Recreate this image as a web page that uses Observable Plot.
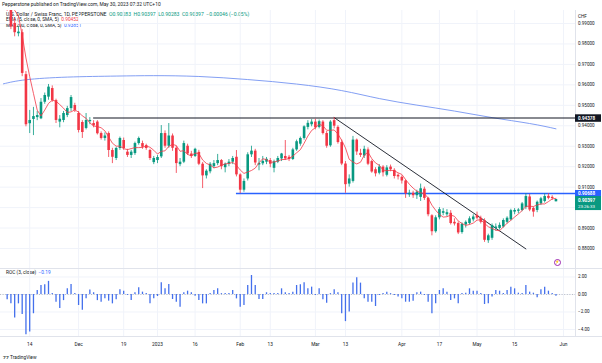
<!DOCTYPE html>
<html><head><meta charset="utf-8">
<script src="https://cdn.jsdelivr.net/npm/d3@7"></script>
<script src="https://cdn.jsdelivr.net/npm/@observablehq/plot@0.6"></script>
<style>
body{margin:0;background:#fff;}
#wrap{position:relative;width:602px;height:363px;overflow:hidden;font-family:Roboto,"Liberation Sans",sans-serif;background:#fff;}
#wrap svg{position:absolute;left:0;z-index:1;}
.t{position:absolute;white-space:nowrap;font-size:5px;color:#131722;line-height:1;z-index:0;}
.sep{position:absolute;background:#e0e3eb;z-index:2;}
</style></head><body><div id="wrap"></div>
<script>
// ---------- DATA ----------
const firstDay = "2022-10-31";          // first bar in the arrays (off-screen to the left)
const calendarEnd = "2023-06-05";
const closedDays = ["2022-12-26"];

const opens = [0.9985,1.0005,1.0025,0.9990,1.0128,0.9965,0.9900,0.9850,0.9855,0.9650,0.9410,0.9431,0.9440,0.9434,0.9515,0.9540,0.9582,0.9523,0.9418,0.9426,0.9450,0.9484,0.9499,0.9460,0.9416,0.9387,0.9420,0.9411,0.9418,0.9362,0.9338,0.9362,0.9279,0.9240,0.9289,0.9328,0.9271,0.9255,0.9264,0.9313,0.9313,0.9303,0.9279,0.9220,0.9230,0.9248,0.9362,0.9300,0.9350,0.9290,0.9210,0.9222,0.9300,0.9262,0.9250,0.9270,0.9212,0.9155,0.9175,0.9200,0.9215,0.9230,0.9195,0.9212,0.9222,0.9246,0.9160,0.9085,0.9140,0.9258,0.9276,0.9208,0.9214,0.9222,0.9230,0.9192,0.9222,0.9238,0.9250,0.9246,0.9235,0.9282,0.9310,0.9338,0.9392,0.9405,0.9418,0.9392,0.9418,0.9362,0.9302,0.9425,0.9392,0.9318,0.9213,0.9115,0.9128,0.9330,0.9265,0.9252,0.9282,0.9225,0.9185,0.9168,0.9198,0.9158,0.9198,0.9182,0.9158,0.9148,0.9130,0.9062,0.9070,0.9058,0.9050,0.9090,0.9045,0.8960,0.8882,0.8950,0.8972,0.8965,0.8972,0.8928,0.8922,0.8878,0.8915,0.8922,0.8940,0.8962,0.8948,0.8936,0.8838,0.8850,0.8898,0.8898,0.8905,0.8928,0.8940,0.8978,0.8982,0.8986,0.9000,0.9052,0.8996,0.8986,0.9018,0.9030,0.9055,0.9050,0.90283];
const highs = [1.0030,1.0050,1.0060,1.0148,1.0135,0.9985,0.9925,0.9885,0.9870,0.9665,0.9475,0.9490,0.9470,0.9533,0.9560,0.9602,0.9595,0.9530,0.9450,0.9470,0.9495,0.9548,0.9510,0.9470,0.9425,0.9460,0.9440,0.9425,0.9425,0.9370,0.9365,0.9370,0.9290,0.9295,0.9345,0.9340,0.9285,0.9280,0.9320,0.9345,0.9325,0.9310,0.9285,0.9250,0.9255,0.9401,0.9375,0.9411,0.9360,0.9300,0.9240,0.9325,0.9310,0.9275,0.9290,0.9280,0.9220,0.9185,0.9220,0.9230,0.9260,0.9235,0.9218,0.9235,0.9250,0.9279,0.9165,0.9140,0.9268,0.9300,0.9285,0.9240,0.9250,0.9245,0.9240,0.9232,0.9250,0.9265,0.9328,0.9255,0.9290,0.9330,0.9345,0.9400,0.9425,0.9430,0.9432,0.9428,0.9425,0.9372,0.9425,0.9440,0.9400,0.9330,0.9225,0.9160,0.9348,0.9335,0.9285,0.9300,0.9292,0.9232,0.9195,0.9210,0.9205,0.9205,0.9208,0.9190,0.9165,0.9155,0.9135,0.9085,0.9080,0.9085,0.9115,0.9100,0.9050,0.8965,0.8960,0.9000,0.8995,0.8990,0.8985,0.8945,0.8930,0.8925,0.8935,0.8955,0.8965,0.8978,0.8958,0.8945,0.8870,0.8920,0.8920,0.8925,0.8945,0.8955,0.8992,0.8995,0.8995,0.9025,0.9068,0.9064,0.9002,0.9032,0.9050,0.9067,0.9068,0.9058,0.90397];
const lows = [0.9960,0.9975,0.9975,0.9980,0.9960,0.9870,0.9835,0.9835,0.9640,0.9395,0.9362,0.9352,0.9425,0.9430,0.9505,0.9525,0.9515,0.9411,0.9390,0.9415,0.9440,0.9470,0.9465,0.9365,0.9338,0.9380,0.9405,0.9390,0.9355,0.9330,0.9325,0.9245,0.9215,0.9230,0.9280,0.9280,0.9245,0.9240,0.9255,0.9305,0.9285,0.9280,0.9230,0.9210,0.9215,0.9240,0.9290,0.9290,0.9275,0.9167,0.9200,0.9215,0.9255,0.9240,0.9245,0.9205,0.9093,0.9140,0.9165,0.9190,0.9205,0.9185,0.9170,0.9200,0.9210,0.9150,0.9068,0.9075,0.9130,0.9245,0.9205,0.9180,0.9205,0.9210,0.9195,0.9170,0.9215,0.9225,0.9230,0.9225,0.9230,0.9275,0.9300,0.9330,0.9380,0.9395,0.9380,0.9385,0.9355,0.9290,0.9295,0.9385,0.9310,0.9205,0.9070,0.9100,0.9120,0.9255,0.9245,0.9240,0.9205,0.9168,0.9150,0.9160,0.9150,0.9150,0.9175,0.9140,0.9135,0.9115,0.9045,0.9050,0.9045,0.9040,0.9030,0.9035,0.8955,0.8862,0.8875,0.8940,0.8960,0.8955,0.8915,0.8910,0.8868,0.8870,0.8900,0.8915,0.8930,0.8940,0.8920,0.8830,0.8825,0.8840,0.8885,0.8890,0.8900,0.8920,0.8935,0.8965,0.8970,0.8980,0.8990,0.8980,0.8953,0.8975,0.9010,0.9022,0.9038,0.9035,0.90283];
const closes = [1.0005,1.0025,0.9990,1.0128,0.9965,0.9883,0.9855,0.9858,0.9656,0.9405,0.9426,0.9445,0.9450,0.9515,0.9548,0.9589,0.9523,0.9426,0.9432,0.9460,0.9484,0.9538,0.9475,0.9377,0.9367,0.9426,0.9426,0.9400,0.9361,0.9338,0.9350,0.9279,0.9246,0.9289,0.9338,0.9289,0.9255,0.9271,0.9313,0.9338,0.9295,0.9289,0.9240,0.9240,0.9245,0.9362,0.9300,0.9350,0.9290,0.9215,0.9222,0.9313,0.9262,0.9250,0.9285,0.9212,0.9155,0.9178,0.9212,0.9215,0.9230,0.9200,0.9212,0.9222,0.9240,0.9160,0.9085,0.9128,0.9258,0.9276,0.9218,0.9216,0.9226,0.9236,0.9212,0.9224,0.9240,0.9262,0.9238,0.9235,0.9282,0.9322,0.9338,0.9395,0.9412,0.9418,0.9390,0.9420,0.9362,0.9300,0.9418,0.9398,0.9318,0.9213,0.9112,0.9140,0.9330,0.9272,0.9255,0.9285,0.9212,0.9174,0.9165,0.9198,0.9170,0.9194,0.9185,0.9152,0.9150,0.9130,0.9068,0.9070,0.9058,0.9075,0.9092,0.9045,0.8965,0.8882,0.8950,0.8990,0.8980,0.8975,0.8922,0.8920,0.8876,0.8918,0.8928,0.8945,0.8954,0.8948,0.8928,0.8840,0.8862,0.8912,0.8905,0.8913,0.8937,0.8948,0.8985,0.8986,0.8988,0.9018,0.9054,0.8988,0.8978,0.9026,0.9043,0.9054,0.9045,0.90443,0.90397];
// ROC (3, close) column heights as read from the lower pane, one per bar (null = not shown)
const rocValues = [null,null,null,null,
 -0.6,-1.07,-2.7,-1.07,-2.3,-4.6,-4.3,-2.2,0.46,1.03,1.1,1.5,0.05,-0.9,-1.6,-0.7,0.65,1.14,0.0,-1.26,-1.8,-0.5,0.5,0.2,-0.7,-0.9,-0.5,-0.76,-1.07,-0.6,0.53,0.38,-0.1,-0.7,0.2,0.76,0.27,0.0,-1.07,-0.5,-0.23,1.33,0.65,1.14,-0.57,-0.88,-1.45,0.2,0.38,0.2,-0.2,-0.7,-1.07,-1.07,0.0,0.46,0.65,0.0,0.0,0.0,0.46,-0.5,-1.45,-1.26,1.03,2.17,1.03,-0.57,-0.57,0.2,0.0,0.0,0.08,0.65,0.2,0.0,0.27,1.03,
 1.1,
 1.33,0.65,0.84,-0.11,0.65,-0.61,-0.99,0.0,0.53,0.19,-2.2,-3.1,-2.0,1.3,1.9,1.3,-0.5,-0.88,-0.88,-1.37,-0.11,0.08,0.27,0.08,-0.11,-0.3,-0.5,-0.88,-0.88,-0.76,0.19,0.27,-0.11,-0.88,-2.2,-1.07,0.46,0.65,0.27,-0.69,-0.5,-1.07,0.0,0.15,0.65,0.38,0.38,0.0,-1.14,-1.07,-0.3,0.46,0.38,0.08,0.46,0.84,0.65,0.15,0.0,1.03,0.27,0.15,-0.38,0.53,0.84,0.38,0.08,-0.19];
// 200-day moving average, read at these dates
const ma200Dates  = ["2022-11-03","2022-11-11","2022-11-28","2022-12-15","2022-12-30","2023-01-17","2023-02-03","2023-02-22","2023-03-10","2023-03-24","2023-04-07","2023-04-21","2023-05-05","2023-05-19","2023-05-30"];
const ma200Values = [0.9605,0.9625,0.9638,0.9643,0.9645,0.9641,0.9626,0.9604,0.9572,0.9533,0.9501,0.9472,0.9440,0.9411,0.93851];
// drawn lines
const resistanceStart = "2022-12-07", resistanceLevel = 0.94378;
const supportStart = "2023-01-31", supportLevel = 0.90688;
const trendDates = ["2023-03-08","2023-05-18"], trendPrices = [0.9440, 0.8798];
// axis ticks
const tickDates  = ["2022-11-14","2022-12-01","2022-12-19","2023-01-02","2023-01-16","2023-02-01","2023-02-13","2023-03-01","2023-03-13","2023-04-03","2023-04-17","2023-05-01","2023-05-15","2023-06-01"];
const tickLabels = ["14","Dec","19","2023","16","Feb","13","Mar","13","Apr","17","May","15","Jun"];
const priceTicks = [0.88,0.89,0.90,0.91,0.92,0.93,0.94,0.95,0.96,0.97,0.98,0.99];
const rocTicks = [2,0,-2,-4];
const lastPrice = 0.90397, countdown = "23:26:33";

// ---------- CALENDAR ----------
const dayIndex = new Map();
{
  let t = Date.parse(firstDay + "T00:00:00Z"), end = Date.parse(calendarEnd + "T00:00:00Z"), i = 0;
  while (t <= end) {
    const d = new Date(t), s = d.toISOString().slice(0,10), w = d.getUTCDay();
    if (w !== 0 && w !== 6 && !closedDays.includes(s)) dayIndex.set(s, i++);
    t += 864e5;
  }
}
const idx = s => dayIndex.get(s);
const bars = opens.map((o,k)=>({i:k, o, h:highs[k], l:lows[k], c:closes[k]}));
const upBars = bars.filter(d=>d.c>=d.o), dnBars = bars.filter(d=>d.c<d.o);
const ma5 = [];
for (let k=4;k<closes.length;k++) ma5.push({i:k, v:d3.mean(closes.slice(k-4,k+1))});
const ma200 = ma200Dates.map((s,j)=>({i:idx(s), v:ma200Values[j]}));
const rocData = rocValues.map((v,k)=>({i:k, v})).filter(d=>d.v!==null);
const ticks = tickDates.map((s,j)=>({i:idx(s), label:tickLabels[j]}));

// ---------- LAYOUT ----------
const W = 602, axisW = 27;
const xDom = [2.23, 155.2];                 // visible bar range (bar index)
const pxPerBar = (W-axisW)/(xDom[1]-xDom[0]);
const xBoxEnd = xDom[1] + 26/pxPerBar;
const green="#089981", red="#f23645", blue="#2962ff", ink="#131722", grid="#f0f3fa";
const font = 'Roboto,"Liberation Sans",sans-serif';
const fmt5 = d3.format(".5f"), fmt2 = d3.format(".2f");
const body = d => {const lo=Math.min(d.o,d.c), hi=Math.max(d.o,d.c); return hi-lo<0.0004?[ (lo+hi)/2-0.0002,(lo+hi)/2+0.0002]:[lo,hi];};

const price = Plot.plot({
  width: W, height: 268, marginTop: 10, marginBottom: 0, marginLeft: 0, marginRight: axisW,
  x: {type:"linear", domain: xDom, axis: null},
  y: {type:"linear", domain: [0.87022, 0.99636], axis: null},
  style: {background:"transparent", fontFamily: font, overflow:"visible"},
  marks: [
    Plot.ruleX(ticks, {x:"i", stroke:grid, strokeWidth:1}),
    Plot.ruleY(priceTicks, {y:d=>d, stroke:grid, strokeWidth:1}),
    Plot.line(ma200, {x:"i", y:"v", curve:"natural", stroke:"#7594f2", strokeWidth:0.9, clip:true}),
    Plot.ruleY([resistanceLevel], {y:d=>d, x1:()=>idx(resistanceStart), x2:()=>xDom[1], stroke:ink, strokeWidth:1.1}),
    Plot.ruleY([supportLevel], {y:d=>d, x1:()=>idx(supportStart), x2:()=>xDom[1], stroke:blue, strokeWidth:1.3}),
    Plot.line(trendDates.map((s,j)=>({i:idx(s), v:trendPrices[j]})), {x:"i", y:"v", stroke:ink, strokeWidth:0.9}),
    Plot.ruleX(upBars, {x:"i", y1:"l", y2:"h", stroke:green, strokeWidth:0.8, clip:true}),
    Plot.ruleX(dnBars, {x:"i", y1:"l", y2:"h", stroke:red, strokeWidth:0.8, clip:true}),
    Plot.ruleX(upBars, {x:"i", y1:d=>body(d)[0], y2:d=>body(d)[1], stroke:green, strokeWidth:2.6, clip:true}),
    Plot.ruleX(dnBars, {x:"i", y1:d=>body(d)[0], y2:d=>body(d)[1], stroke:red, strokeWidth:2.6, clip:true}),
    Plot.line(ma5, {x:"i", y:"v", stroke:red, strokeWidth:0.8, clip:true}),
    Plot.ruleX([xDom[1]], {x:d=>d, stroke:"#e0e3eb", strokeWidth:1}),
    Plot.text(priceTicks, {x:()=>xDom[1], y:d=>d, text:d=>fmt5(d), dx:2.5, textAnchor:"start", fill:ink, fontSize:4.6}),
    Plot.text(["CHF"], {x:()=>xDom[1], y:()=>0.9935, text:d=>d, dx:2.5, textAnchor:"start", fill:ink, fontSize:4.6}),
    Plot.ruleY([resistanceLevel], {y:d=>d, x1:()=>xDom[1], x2:()=>xBoxEnd, stroke:ink, strokeWidth:7.5}),
    Plot.text([resistanceLevel], {x:()=>xDom[1], y:d=>d, text:d=>fmt5(d), dx:2.5, textAnchor:"start", fill:"#fff", fontSize:4.6, fontWeight:"bold"}),
    Plot.ruleY([supportLevel], {y:d=>d, x1:()=>xDom[1], x2:()=>xBoxEnd, stroke:blue, strokeWidth:7}),
    Plot.text([supportLevel], {x:()=>xDom[1], y:d=>d, text:d=>fmt5(d), dx:2.5, textAnchor:"start", fill:"#fff", fontSize:4.6, fontWeight:"bold"}),
    Plot.ruleY([lastPrice], {y:d=>d, x1:()=>xDom[1], x2:()=>xBoxEnd, dy:3.6, stroke:green, strokeWidth:14}),
    Plot.text([lastPrice], {x:()=>xDom[1], y:d=>d, text:d=>fmt5(d), dx:2.5, dy:0.6, textAnchor:"start", fill:"#fff", fontSize:4.6, fontWeight:"bold"}),
    Plot.text([lastPrice], {x:()=>xDom[1], y:d=>d, text:()=>countdown, dx:2.5, dy:7, textAnchor:"start", fill:"#fff", fontSize:4.4})
  ]
});
price.style.top = "0px";

const roc = Plot.plot({
  width: W, height: 95, marginTop: 0, marginBottom: 27, marginLeft: 0, marginRight: axisW,
  x: {type:"linear", domain: xDom, axis: null},
  y: {type:"linear", domain: [-4.8, 2.971], axis: null},
  style: {background:"transparent", fontFamily: font, overflow:"visible"},
  marks: [
    Plot.ruleX(ticks, {x:"i", stroke:grid, strokeWidth:1}),
    Plot.ruleY(rocTicks, {y:d=>d, stroke:grid, strokeWidth:1}),
    Plot.ruleY([0], {y:d=>d, stroke:"#9598a1", strokeWidth:0.6, strokeDasharray:"1,1.6"}),
    Plot.ruleX(rocData, {x:"i", y1:()=>0, y2:d=>Math.abs(d.v)<0.1?0.1:d.v, stroke:"#4470ec", strokeWidth:1.3, clip:true}),
    Plot.ruleX([xDom[1]], {x:d=>d, stroke:"#e0e3eb", strokeWidth:1}),
    Plot.text(rocTicks, {x:()=>xDom[1], y:d=>d, text:d=>fmt2(d), dx:2.5, textAnchor:"start", fill:ink, fontSize:4.6}),
    Plot.text(ticks, {x:"i", text:"label", frameAnchor:"bottom", dy:9.5, fill:ink, fontSize:4.8})
  ]
});
roc.style.top = "268px";

const wrap = document.getElementById("wrap");
wrap.appendChild(price); wrap.appendChild(roc);
function addText(html, x, y, size){ const d=document.createElement("div"); d.className="t"; d.style.left=x+"px"; d.style.top=y+"px"; if(size) d.style.fontSize=size+"px"; d.innerHTML=html; wrap.appendChild(d); }
function addSep(x,y,w,h){ const d=document.createElement("div"); d.className="sep"; Object.assign(d.style,{left:x+"px",top:y+"px",width:w+"px",height:h+"px"}); wrap.appendChild(d); }
addText("Pepperstone published on TradingView.com, May 30, 2023 07:32 UTC+10", 2, 2.3, 4.9);
addText('U.S. Dollar / Swiss Franc, 1D, PEPPERSTONE &nbsp;<span style="color:'+green+'">O0.90283 &nbsp;H0.90397 &nbsp;L0.90283 &nbsp;C0.90397 &nbsp;−0.00046 (−0.05%)</span>', 6, 12.3, 5.1);
addText('EMA (5, close, 0, SMA, 5) &nbsp;<span style="color:'+red+'">'+fmt5(ma5[ma5.length-1].v)+'</span>', 6, 18, 4.8);
addText('MA (200, close, 0, SMA, 5) &nbsp;<span style="color:'+blue+'">'+fmt5(ma200Values[ma200Values.length-1])+'</span>', 6, 23.5, 4.8);
addText('ROC (3, close) &nbsp;<span style="color:'+blue+'">−0.19</span>', 6, 271, 4.8);
addText('<b style="font-size:5px">⁊⁊</b> TradingView', 3, 354.5, 4.8);
addSep(0,268,602,0.8); addSep(0,336,602,0.8);
const icon=document.createElement("div");
Object.assign(icon.style,{position:"absolute",left:"553.5px",top:"259px",width:"5px",height:"5px",border:"0.8px solid #9c27b0",borderRadius:"50%",zIndex:3,fontSize:"3.5px",color:"#9c27b0",textAlign:"center",lineHeight:"5px",fontFamily:font});
icon.textContent="⚡"; wrap.appendChild(icon);
</script></body></html>
